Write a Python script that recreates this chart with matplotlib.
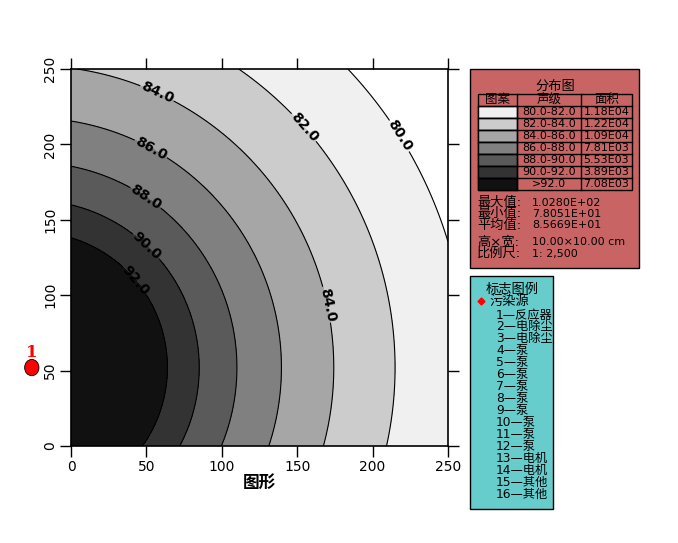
import numpy as np
import matplotlib
matplotlib.use("Agg")
import matplotlib.pyplot as plt
from matplotlib.patches import Rectangle, Ellipse

plt.rcParams['font.family'] = ['DejaVu Sans', 'Noto Sans CJK SC']

# source position and contour crossings
source_x, source_y = -26, 52
levels = [80, 82, 84, 86, 88, 90, 92]
radii = [288, 241, 201, 165, 136, 111, 90]

ticks = [0, 50, 100, 150, 200, 250]
fill_colors = ['#ffffff', '#f0f0f0', '#cccccc', '#a6a6a6', '#808080', '#5a5a5a', '#333333', '#111111']

# legend table
range_labels = ['80.0-82.0', '82.0-84.0', '84.0-86.0', '86.0-88.0', '88.0-90.0', '90.0-92.0', '>92.0']
area_labels = ['1.18E04', '1.22E04', '1.09E04', '7.81E03', '5.53E03', '3.89E03', '7.08E03']
stat_names = ['最大值:', '最小值:', '平均值:', '高×宽:', '比例尺:']
stat_values = ['1.0280E+02', '7.8051E+01', '8.5669E+01', '10.00×10.00 cm', '1: 2,500']
marker_items = ['1—反应器', '2—电除尘', '3—电除尘', '4—泵', '5—泵', '6—泵', '7—泵', '8—泵',
                '9—泵', '10—泵', '11—泵', '12—泵', '13—电机', '14—电机', '15—其他', '16—其他']

# field from the read crossings
fit = np.polyfit(np.log10(radii), levels, 2)
gx = np.linspace(0, 250, 251)
gy = np.linspace(0, 250, 251)
X, Y = np.meshgrid(gx, gy)
R = np.sqrt((X - source_x) ** 2 + (Y - source_y) ** 2)
Z = np.polyval(fit, np.log10(R))

fig = plt.figure(figsize=(6.78, 5.43), dpi=100)
ax = fig.add_axes([71 / 678, 1 - 446 / 543, 377 / 678, 377 / 543])

ax.contourf(X, Y, Z, levels=[0] + levels + [200], colors=fill_colors)
cs = ax.contour(X, Y, Z, levels=levels, colors='black', linewidths=0.8)
label_pos = [(55.7, 231), (52.4, 196), (48.4, 163), (47.7, 130), (40.5, 108),
             (151.9, 209), (216.8, 205), (166.4, 93)]
lbls = ax.clabel(cs, fmt='%.1f', fontsize=10, manual=label_pos, inline=True, inline_spacing=3)
for t in lbls:
    t.set_fontweight('bold')

ax.set_xlim(0, 250)
ax.set_ylim(0, 250)
ax.set_xticks(ticks)
ax.set_yticks(ticks)
ax.tick_params(direction='out', length=8, width=1, top=True, right=True, labelsize=10, pad=2)
for lab in ax.get_yticklabels():
    lab.set_rotation(90)
    lab.set_va('center')
ax.set_xlabel('图形', fontsize=12, fontweight='bold', family=['Noto Sans CJK SC'], labelpad=0)
for s in ax.spines.values():
    s.set_linewidth(1.2)

# pollution source marker
ax.add_patch(Ellipse((source_x, source_y), 9.5, 10.8, facecolor='red', edgecolor='black',
                     linewidth=0.6, clip_on=False, zorder=5))
ax.text(source_x, source_y + 10, '1', color='red', fontsize=12, fontweight='bold',
        family='DejaVu Serif', ha='center', va='center', clip_on=False)

# overlay in pixel coordinates for the side panels
ov = fig.add_axes([0, 0, 1, 1])
ov.set_xlim(0, 678)
ov.set_ylim(543, 0)
ov.axis('off')

ov.add_patch(Rectangle((470, 69), 169, 199, facecolor='#c86464', edgecolor='black', linewidth=1))
ov.text(555, 86, '分布图', fontsize=9.5, ha='center', va='center')
col_x = [478, 516.5, 581, 632]
row_h = 12.1
top = 93.5
ov.add_patch(Rectangle((col_x[0], top), col_x[3] - col_x[0], 12 + row_h * 7,
                       facecolor='none', edgecolor='black', linewidth=1))
for cx in col_x[1:3]:
    ov.plot([cx, cx], [top, top + 12 + row_h * 7], color='black', lw=1)
for i, h in enumerate(['图案', '声级', '面积']):
    ov.text((col_x[i] + col_x[i + 1]) / 2, top + 6, h, fontsize=9, ha='center', va='center')
for i in range(7):
    y0 = top + 12 + i * row_h
    ov.plot([col_x[0], col_x[3]], [y0, y0], color='black', lw=1)
    ov.add_patch(Rectangle((col_x[0], y0), col_x[1] - col_x[0], row_h,
                           facecolor=fill_colors[i + 1], edgecolor='black', linewidth=1))
    ov.text((col_x[1] + col_x[2]) / 2, y0 + row_h / 2, range_labels[i], fontsize=8,
            ha='center', va='center')
    ov.text((col_x[2] + col_x[3]) / 2, y0 + row_h / 2, area_labels[i], fontsize=8,
            ha='center', va='center')

stat_y = [202.5, 214, 225.5, 242, 253.5]
for name, val, sy in zip(stat_names, stat_values, stat_y):
    ov.text(477, sy, name, fontsize=9.5, ha='left', va='center')
    ov.text(532, sy, val, fontsize=8, ha='left', va='center')

ov.add_patch(Rectangle((470, 276), 83, 233, facecolor='#66cccc', edgecolor='black', linewidth=1))
ov.text(486, 289, '标志图例', fontsize=9.5, ha='left', va='center')
ov.plot([481], [301], marker='D', color='red', markersize=3.5)
ov.text(489, 301, '污染源', fontsize=9.5, ha='left', va='center')
for i, item in enumerate(marker_items):
    ov.text(496, 315 + i * 11.93, item, fontsize=8.8, ha='left', va='center')

fig.savefig('out.png', dpi=100)
